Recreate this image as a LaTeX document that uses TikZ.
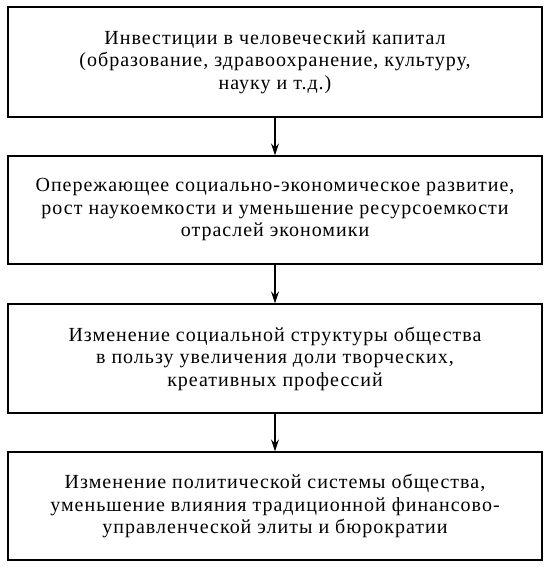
\documentclass[tikz,border=0pt]{standalone}
\usepackage{fontspec}
\setmainfont[LetterSpace=5.0]{Liberation Serif}
\usetikzlibrary{arrows.meta}
\begin{document}
\begin{tikzpicture}[x=1pt,y=-1pt,
  blk/.style={draw, line width=1.4pt, minimum width=534pt, align=center, inner sep=0pt,
    font=\fontsize{20}{22.5}\selectfont},
  conn/.style={line width=1.2pt, -{Stealth[length=12pt,width=8pt,inset=4pt]}}]
\useasboundingbox (0,0) rectangle (550,569);
\node[blk, minimum height=110pt] (b1) at (275,62) {Инвестиции в человеческий капитал\\(образование, здравоохранение, культуру,\\науку и т.д.)};
\node[blk, minimum height=108pt] (b2) at (275,210) {Опережающее социально-экономическое развитие,\\рост наукоемкости и уменьшение ресурсоемкости\\отраслей экономики};
\node[blk, minimum height=109pt] (b3) at (275,358.5) {Изменение социальной структуры общества\\в пользу увеличения доли творческих,\\креативных профессий};
\node[blk, minimum height=108pt] (b4) at (275,506) {Изменение политической системы общества,\\уменьшение влияния традиционной финансово-\\управленческой элиты и бюрократии};
\draw[conn] (b1) -- (b2);
\draw[conn] (b2) -- (b3);
\draw[conn] (b3) -- (b4);
\end{tikzpicture}
\end{document}
